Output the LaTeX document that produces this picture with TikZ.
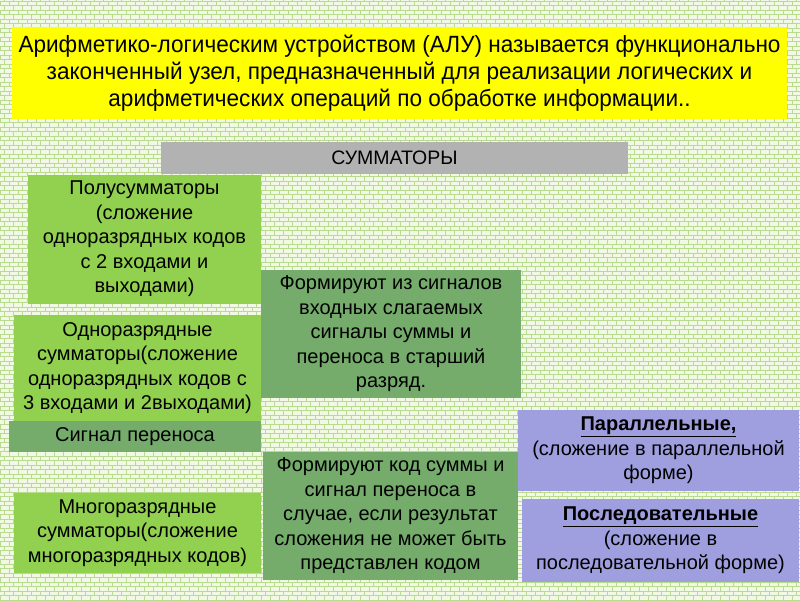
\documentclass[tikz,border=0pt]{standalone}
\usepackage{fontspec}
\setmainfont{Liberation Sans}
\newfontfamily\narrowfont[FakeStretch=0.96]{Liberation Sans}
\usetikzlibrary{patterns}
\definecolor{bgc}{HTML}{F1F8E6}
\definecolor{mortar}{HTML}{B8DB8E}
\definecolor{ttlyellow}{HTML}{FFFF00}
\definecolor{grayc}{HTML}{B2B2B2}
\definecolor{lgreen}{HTML}{92D050}
\definecolor{dgreen}{HTML}{75AC6C}
\definecolor{lilac}{HTML}{9F9FDF}
\pgfdeclarepatternformonly{mybricks}{\pgfpoint{-1pt}{-1pt}}{\pgfpoint{10pt}{10pt}}{\pgfpoint{9pt}{9pt}}{%
  \pgfsetlinewidth{1pt}%
  \pgfpathmoveto{\pgfpoint{0pt}{0pt}}\pgfpathlineto{\pgfpoint{9pt}{0pt}}%
  \pgfpathmoveto{\pgfpoint{0pt}{4.5pt}}\pgfpathlineto{\pgfpoint{9pt}{4.5pt}}%
  \pgfpathmoveto{\pgfpoint{0pt}{0pt}}\pgfpathlineto{\pgfpoint{0pt}{4.5pt}}%
  \pgfpathmoveto{\pgfpoint{4.5pt}{4.5pt}}\pgfpathlineto{\pgfpoint{4.5pt}{9pt}}%
  \pgfusepath{stroke}}
\begin{document}
\begin{tikzpicture}[x=1pt,y=-1pt,
  box/.style={inner sep=0pt, align=center, font=\fontsize{20}{24.5}\selectfont},
  lg/.style={box, fill=lgreen},
  dg/.style={box, fill=dgreen},
  li/.style={box, fill=lilac}]
\useasboundingbox (0,0) rectangle (800,600);
\fill[bgc] (0,0) rectangle (800,600);
\fill[pattern=mybricks, pattern color=mortar] (0,0) rectangle (800,600);

\node[box, fill=ttlyellow, minimum width=775, minimum height=92,
  font=\narrowfont\fontsize{23.5}{27}\selectfont] (title) at (399.5,73)
  {Арифметико-логическим устройством (АЛУ) называется функционально\\
   законченный узел, предназначенный для реализации логических и\\
   арифметических операций по обработке информации..};

\node[box, fill=grayc, minimum width=467, minimum height=32,
  font=\fontsize{19.5}{22}\selectfont] (summ) at (394.5,158) {СУММАТОРЫ};

\node[lg, minimum width=233, minimum height=129] (half) at (144.5,239)
  {Полусумматоры\\(сложение\\одноразрядных кодов\\с 2 входами и\\выходами)};

\node[dg, minimum width=260, minimum height=128] (form1) at (391,334)
  {Формируют из сигналов\\входных слагаемых\\сигналы суммы и\\переноса в старший\\разряд.};

\node[lg, minimum width=247, minimum height=106] (one) at (137.5,368)
  {Одноразрядные\\сумматоры(сложение\\одноразрядных кодов с\\3 входами и 2выходами)};

\node[dg, minimum width=252, minimum height=31] (carry) at (135,436.5)
  {Сигнал переноса};

\node[dg, minimum width=255, minimum height=128] (form2) at (390.5,516)
  {Формируют код суммы и\\сигнал переноса в\\случае, если результат\\сложения не может быть\\представлен кодом};

\node[lg, minimum width=247, minimum height=80] (multi) at (137.5,533)
  {Многоразрядные\\сумматоры(сложение\\многоразрядных кодов)};

\node[li, minimum width=281, minimum height=81] (par) at (658.5,450.5)
  {\textbf{\underline{Параллельные,}}\\(сложение в параллельной\\форме)};

\node[li, minimum width=277, minimum height=83] (seq) at (660.5,540.5)
  {\textbf{\underline{Последовательные}}\\(сложение в\\последовательной форме)};
\end{tikzpicture}
\end{document}
